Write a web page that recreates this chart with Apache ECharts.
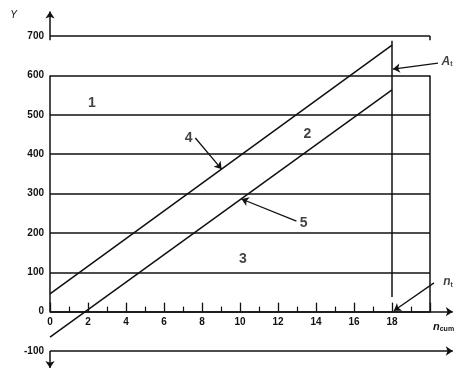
<!DOCTYPE html>
<html><head><meta charset="utf-8">
<script src="https://cdn.jsdelivr.net/npm/echarts@6/dist/echarts.min.js"></script>
<style>html,body{margin:0;padding:0;background:#fff}#c{width:464px;height:372px}</style>
</head><body><div id="c"></div>
<script>
// horizontal threshold levels
const levels = [100, 200, 300, 400, 500, 600, 700];
// diagonal lines (4 upper, 5 lower)
const lineX = [0, 18];
const line4Y = [45, 677];
const line5Y = [-65, 563];
// region / line labels
const regionNames = ['1', '2', '3', '4', '5'];
const regionX = [2.2, 13.55, 10.15, 7.3, 13.35];
const regionY = [530, 451, 133, 441, 225];
// pointer arrows [from, to]
const pointer4 = [[7.65, 441], [9.03, 362]];
const pointer5 = [[12.97, 230], [10.08, 286]];
const pointerA = [[20.42, 631], [18.05, 616]];
const pointerN = [[20.21, 73], [18.1, 2]];
// symbol texts
const symbolTexts = ['{m|A}{s|t}', '{m|n}{s|t}'];
const symbolX = [20.9, 20.95];
const symbolY = [636, 75];

const ink = '#111';
const frame = levels.map(v => ({coords: [[0, v], [20, v]]}));
frame.push({coords: [[0, 0], [0, 600]]});
frame.push({coords: [[20, 0], [20, 600]]});
frame.push({coords: [[20, 700], [20, 689]]});
frame.push({coords: [[18, 37], [18, 688]]});

const axisArrows = [
  {coords: [[0, 689], [0, 762]]},
  {coords: [[0, -100], [0, -143]]},
  {coords: [[0, 0], [21.2, 0]]},
  {coords: [[0, -100], [21.2, -100]]}
];
const pointers = [pointer4, pointer5, pointerA, pointerN].map(p => ({coords: p}));

const gridTop = 36, gridBottom = 21, plotH = 372 - gridTop - gridBottom;
const yMin = -100, yMax = 700;
const zeroOffset = -plotH * (0 - yMin) / (yMax - yMin);

const chart = echarts.init(document.getElementById('c'), null, {renderer: 'canvas'});
const labelFont = {fontFamily: 'Liberation Sans', fontWeight: 'bold', fontSize: 10, color: ink};
chart.setOption({
  animation: false,
  backgroundColor: '#fff',
  grid: {left: 50, right: 34, top: gridTop, bottom: gridBottom, containLabel: false},
  xAxis: {
    type: 'value', min: 0, max: 20, interval: 2, position: 'bottom', offset: zeroOffset,
    name: '{n|n}{s|cum}', nameLocation: 'end', nameGap: 3,
    nameTextStyle: {align: 'left', verticalAlign: 'top', padding: [10, 0, 0, 0],
      rich: {n: {fontFamily: 'Liberation Sans', fontStyle: 'italic', fontWeight: 'bold', fontSize: 11, color: ink},
             s: {fontFamily: 'Liberation Sans', fontWeight: 'bold', fontSize: 7, color: ink, padding: [4, 0, 0, 0]}}},
    axisLine: {show: true, onZero: false, lineStyle: {color: ink, width: 1.5}},
    axisTick: {show: true, inside: true, length: 9, lineStyle: {color: ink, width: 1.3}},
    minorTick: {show: true, splitNumber: 2, length: 5, lineStyle: {color: ink, width: 1.2}},
    splitLine: {show: false}, minorSplitLine: {show: false},
    axisLabel: Object.assign({margin: 6, showMaxLabel: false,
      formatter: v => (v >= 20 ? '' : String(v))}, labelFont)
  },
  yAxis: {
    type: 'value', min: yMin, max: yMax, interval: 100,
    name: 'Y', nameLocation: 'end', nameGap: 16,
    nameTextStyle: {align: 'right', padding: [0, 33, 0, 0], fontFamily: 'Liberation Sans', fontStyle: 'italic', fontSize: 10, color: ink},
    axisLine: {show: false}, axisTick: {show: false}, splitLine: {show: false},
    axisLabel: Object.assign({margin: 6}, labelFont)
  },
  series: [
    {type: 'lines', coordinateSystem: 'cartesian2d', clip: false, silent: true,
     data: frame, symbol: 'none',
     lineStyle: {color: ink, width: 1.5, opacity: 1, curveness: 0}},
    {type: 'lines', coordinateSystem: 'cartesian2d', clip: false, silent: true,
     data: axisArrows, symbol: ['none', 'arrow'], symbolSize: 7,
     lineStyle: {color: ink, width: 1.5, opacity: 1, curveness: 0}},
    {type: 'lines', coordinateSystem: 'cartesian2d', clip: false, silent: true,
     data: pointers, symbol: ['none', 'arrow'], symbolSize: 7,
     lineStyle: {color: ink, width: 1.3, opacity: 1, curveness: 0}},
    {type: 'line', name: '4', showSymbol: false, clip: false, silent: true,
     data: lineX.map((x, i) => [x, line4Y[i]]), lineStyle: {color: ink, width: 1.5}},
    {type: 'line', name: '5', showSymbol: false, clip: false, silent: true,
     data: lineX.map((x, i) => [x, line5Y[i]]), lineStyle: {color: ink, width: 1.5}},
    {type: 'scatter', symbolSize: 0, clip: false, silent: true,
     data: regionNames.map((n, i) => ({name: n, value: [regionX[i], regionY[i]]})),
     label: {show: true, position: 'inside', formatter: '{b}', fontFamily: 'Liberation Sans', fontWeight: 'bold', fontSize: 14, color: ink}},
    {type: 'scatter', symbolSize: 0, clip: false, silent: true,
     data: symbolTexts.map((t, i) => ({name: t, value: [symbolX[i], symbolY[i]]})),
     label: {show: true, position: 'inside', formatter: '{b}',
       rich: {m: {fontFamily: 'Liberation Sans', fontStyle: 'italic', fontWeight: 'bold', fontSize: 12, color: ink},
              s: {fontFamily: 'Liberation Sans', fontWeight: 'bold', fontSize: 7, color: ink, padding: [5, 0, 0, 0]}}}}
  ]
});
</script></body></html>
